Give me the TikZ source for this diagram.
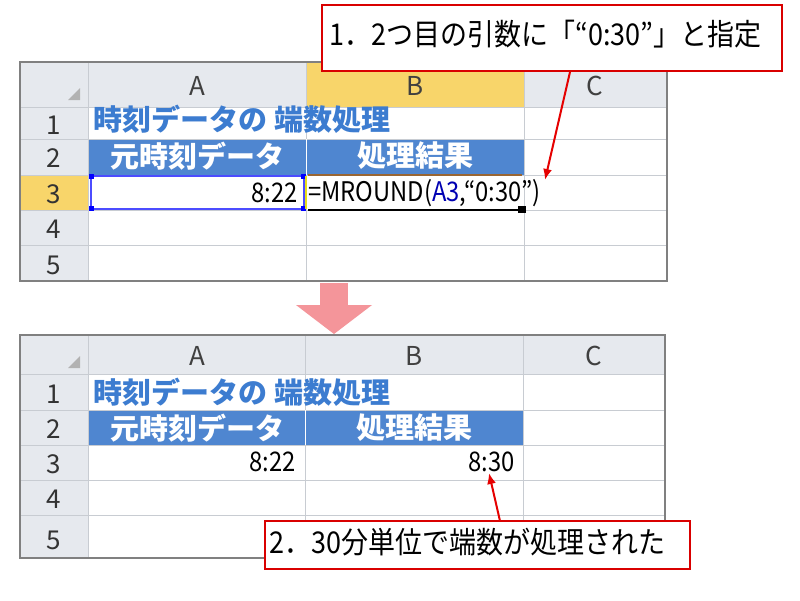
\documentclass[tikz,border=0pt]{standalone}
\usepackage{fontspec}
\setmainfont{Noto Sans CJK JP}
\setsansfont{Noto Sans CJK JP}
\tikzset{
 grid/.style={draw=gridgray,line width=1pt},
 callout/.style={draw=red!85!black,line width=2pt,fill=white,inner sep=0pt},
 redarrow/.style={draw=red!90!black,line width=2pt,-{Latex[length=11pt,width=9pt]}},
 t/.style={font=\fontsize{26}{28}\selectfont},
 tl/.style={font=\fontsize{27}{29}\selectfont\addfontfeatures{FakeStretch=0.88}},
 tc/.style={font=\fontsize{30}{32}\selectfont\addfontfeatures{FakeStretch=0.9}},
 tb/.style={font=\fontsize{29}{31}\selectfont\bfseries},
}
\usetikzlibrary{arrows.meta}
\definecolor{hdrgray}{HTML}{E6E9EE}
\definecolor{gridgray}{HTML}{C8CCD2}
\definecolor{blu}{HTML}{4F86D0}
\definecolor{bluetxt}{HTML}{3C7CD0}
\definecolor{yel}{HTML}{F8D56A}
\definecolor{pink}{HTML}{F4959A}
\begin{document}
\begin{tikzpicture}[x=1pt,y=-1pt]
\useasboundingbox (0,0) rectangle (800,600);
\fill[white] (0,0) rectangle (800,600);
% ===== top table =====
\fill[hdrgray] (20,62) rectangle (667,107);
\fill[hdrgray] (20,62) rectangle (88,281);
\fill[yel] (306,62) rectangle (524,107);
\fill[yel] (20,175) rectangle (88,210);
\fill[blu] (88,139) rectangle (524,175);
\foreach \y in {107,139,175,210,245} \draw[grid] (20,\y) -- (667,\y);
\foreach \x in {88,306,524} \draw[grid] (\x,62) -- (\x,281);
\draw[draw=gray,line width=1.5pt] (20,62) rectangle (667,281);
\draw[white,line width=1pt] (306,139) -- (306,175);
\fill[gray!60] (80,100) -- (80,88) -- (68,100) -- cycle;
\node[t,text=gray!50!black] (ta) at (197,86) {A};
\node[t,text=gray!50!black] (tbh) at (415,86) {B};
\node[t,text=gray!50!black] (tc) at (595,86) {C};
\foreach \n/\y in {1/125,2/158,3/194,4/229,5/265} \node[t,text=gray!40!black] (tr\n) at (54,\y) {\n};
\node[tb,text=bluetxt,anchor=west] (tt1) at (90,119) {時刻データの 端数処理};
\node[tb,text=white] (th1) at (197,156) {元時刻データ};
\node[tb,text=white] (th2) at (415,156) {処理結果};
\draw[blue!70,line width=1.5pt] (91,176) rectangle (304,209);
\fill[blue] (89,174) rectangle (94,179); \fill[blue] (89,206) rectangle (94,211);
\fill[blue] (301,174) rectangle (306,179); \fill[blue] (301,206) rectangle (306,211);
\draw[yellow!90!black,line width=2pt] (306,176) -- (306,209);
\draw[brown!80!black,line width=2pt] (308,175) -- (522,175);
\draw[black,line width=2pt] (308,210) -- (518,210);
\fill[black] (518,206) rectangle (526,213);
\node[tl,anchor=east] (tv) at (301,193) {8:22};
\node[tl,anchor=west,inner xsep=1pt] (tf) at (307,193) {=MROUND(\textcolor{blue!70!black}{A3},“0:30”)};
% callout 1
\node[callout,minimum width=460pt,minimum height=66pt] (c1) at (552,38) {};
\node[tc,anchor=west] (c1t) at (326,34) {1．2つ目の引数に「“0:30”」と指定};
\coordinate (c1a) at (570,72);
\coordinate (c1b) at (545,180);
\draw[redarrow] (c1a) -- (c1b);
% pink arrow
\fill[pink] (320,283) rectangle (348,306);
\fill[pink] (296,305) -- (334,334) -- (372,305) -- cycle;
% ===== bottom table =====
\fill[hdrgray] (20,335) rectangle (665,374);
\fill[hdrgray] (20,335) rectangle (88,558);
\fill[blu] (88,410) rectangle (523,445);
\foreach \y in {374,410,445,480,515} \draw[grid] (20,\y) -- (665,\y);
\foreach \x in {88,305,523} \draw[grid] (\x,335) -- (\x,558);
\draw[draw=gray,line width=1.5pt] (20,335) rectangle (665,558);
\draw[white,line width=1pt] (305,410) -- (305,445);
\fill[gray!60] (80,368) -- (80,356) -- (68,368) -- cycle;
\node[t,text=gray!50!black] (ba) at (197,356) {A};
\node[t,text=gray!50!black] (bbh) at (414,356) {B};
\node[t,text=gray!50!black] (bc) at (594,356) {C};
\foreach \n/\y in {1/394,2/429,3/464,4/499,5/540} \node[t,text=gray!40!black] (br\n) at (54,\y) {\n};
\node[tb,text=bluetxt,anchor=west] (bt1) at (90,392) {時刻データの 端数処理};
\node[tb,text=white] (bh1) at (197,428) {元時刻データ};
\node[tb,text=white] (bh2) at (414,428) {処理結果};
\node[tl,anchor=east] (bv1) at (299,462) {8:22};
\node[tl,anchor=east] (bv2) at (518,462) {8:30};
% callout 2
\node[callout,minimum width=425pt,minimum height=48pt] (c2) at (477,545) {};
\node[tc,anchor=west] (c2t) at (266,542) {2．30分単位で端数が処理された};
\coordinate (c2a) at (500,521);
\coordinate (c2b) at (489,473);
\draw[redarrow] (c2a) -- (c2b);
\end{tikzpicture}
\end{document}
